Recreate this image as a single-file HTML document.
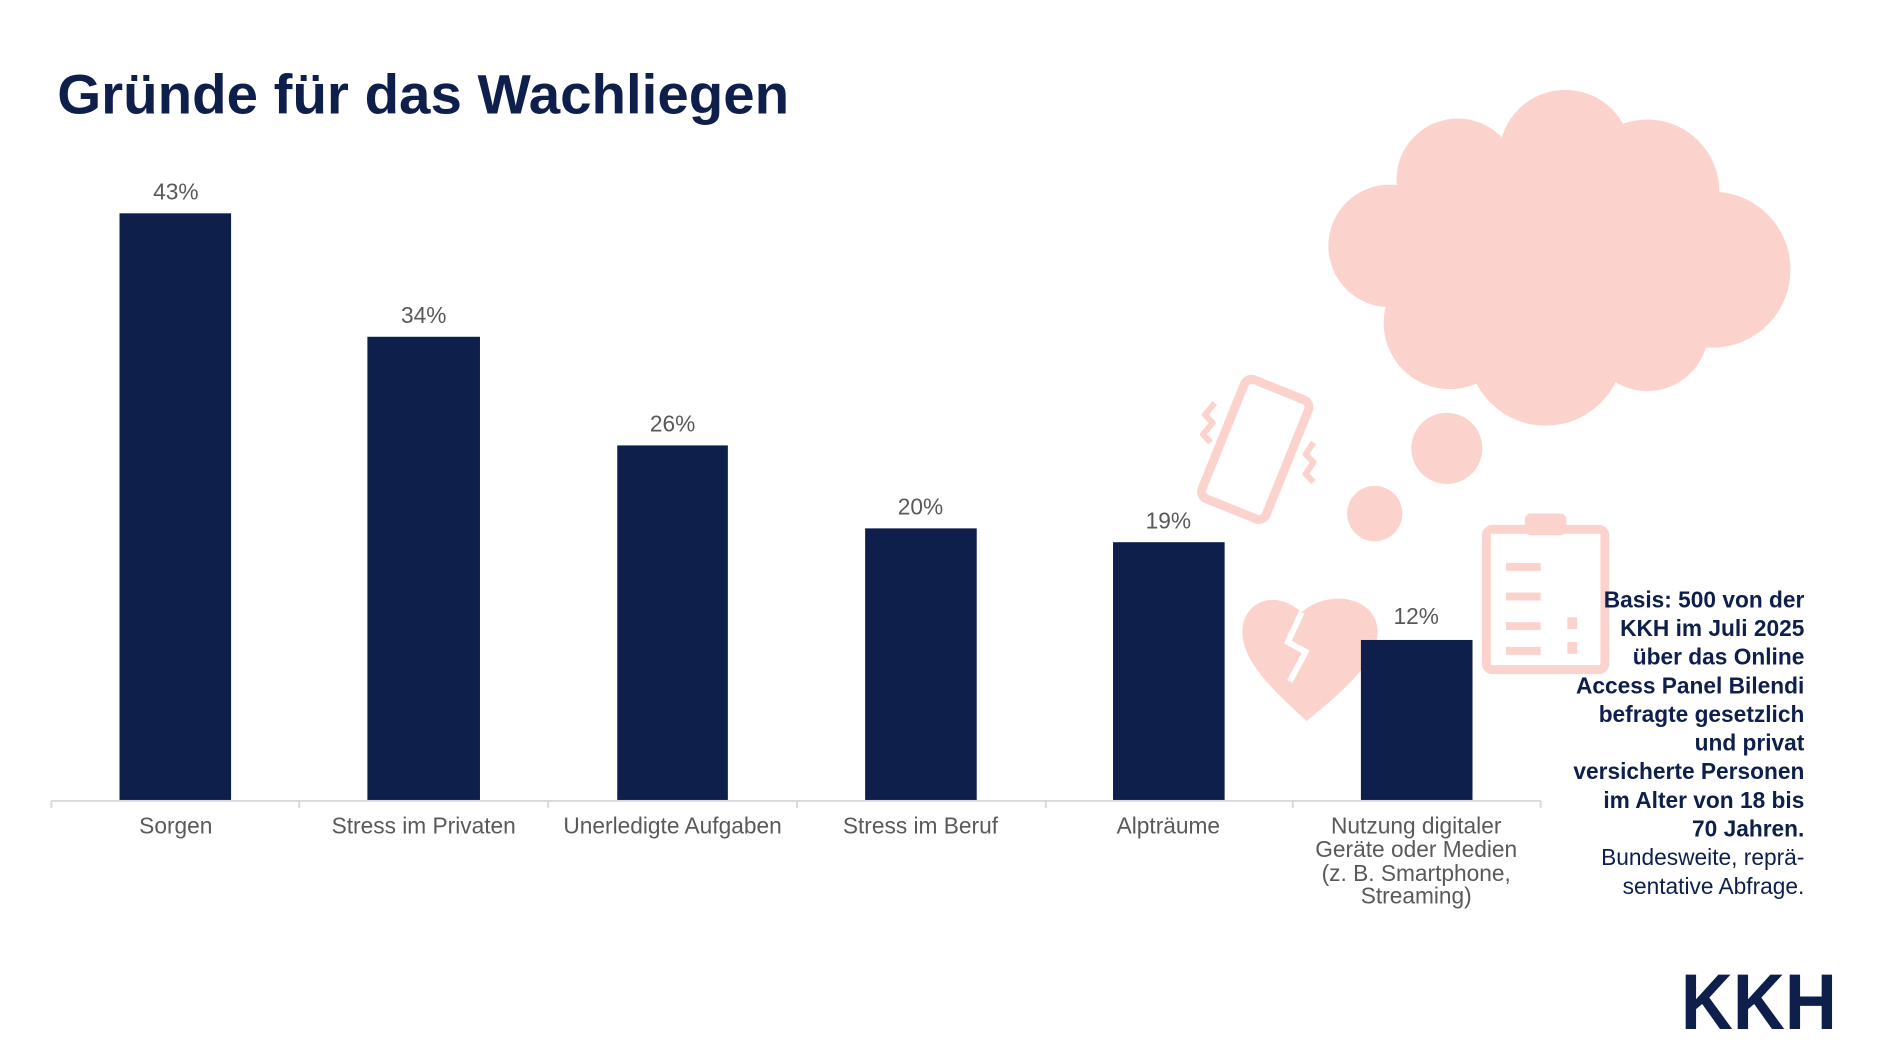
<!DOCTYPE html>
<html><head><meta charset="utf-8"><style>
body{margin:0;width:1880px;height:1057px;background:#fff;overflow:hidden;font-family:"Liberation Sans",sans-serif;}
</style></head><body>
<svg width="1880" height="1057" xmlns="http://www.w3.org/2000/svg" style="position:absolute;left:0;top:0">
<g transform="scale(0.9876)">
<g fill="#fcd3cc">
<circle cx="1476" cy="182" r="62"/><circle cx="1585" cy="158" r="67"/><circle cx="1668" cy="194" r="73"/><circle cx="1734" cy="273" r="79"/>
<circle cx="1407" cy="249" r="62"/><circle cx="1468" cy="327" r="67"/><circle cx="1565" cy="352" r="79"/><circle cx="1668" cy="334" r="62"/>
<circle cx="1560" cy="260" r="110"/>
<circle cx="1465" cy="454" r="36"/><circle cx="1392" cy="520" r="28"/>
</g>
<g fill="none" stroke="#fcd3cc" stroke-width="9" stroke-linejoin="round">
<rect x="1236" y="390" width="70" height="130" rx="8" transform="rotate(22 1271 455)"/>
<path d="M1230 408 l-10 12 l8 8 l-10 12 l8 8" stroke-width="6"/>
<path d="M1330 448 l-8 12 l8 8 l-8 12 l8 8" stroke-width="6"/>
<rect x="1505" y="536" width="120" height="142" rx="6"/>
</g>
<g fill="#fcd3cc">
<rect x="1544" y="520" width="42" height="22" rx="6"/>
<rect x="1525" y="570" width="35" height="8"/><rect x="1525" y="600" width="35" height="8"/><rect x="1525" y="630" width="35" height="8"/><rect x="1525" y="655" width="35" height="8"/>
<rect x="1587" y="625" width="10" height="12"/><rect x="1587" y="650" width="10" height="12"/>
<path d="M1323 730 C1290 700 1258 670 1258 640 C1258 610 1290 595 1318 620 C1346 595 1395 605 1395 640 C1395 670 1360 700 1323 730Z"/>
</g>
<path d="M1318 620 l-14 30 l18 10 l-16 30" stroke="#fff" stroke-width="6" fill="none"/>
<text x="58" y="115" font-size="56" font-weight="bold" fill="#0d1f4a" textLength="741" lengthAdjust="spacingAndGlyphs">Gründe für das Wachliegen</text>
<g fill="#0d1f4a">
<rect x="121" y="216" width="113" height="594"/><rect x="372" y="341" width="114" height="469"/>
<rect x="625" y="451" width="112" height="359"/><rect x="876" y="535" width="113" height="275"/>
<rect x="1127" y="549" width="113" height="261"/><rect x="1378" y="648" width="113" height="162"/>
</g>
<g stroke="#d9d9d9" stroke-width="2"><line x1="52" y1="811" x2="1560" y2="811"/>
<line x1="303" y1="811" x2="303" y2="818"/><line x1="555" y1="811" x2="555" y2="818"/><line x1="807" y1="811" x2="807" y2="818"/><line x1="1059" y1="811" x2="1059" y2="818"/><line x1="1309" y1="811" x2="1309" y2="818"/><line x1="1560" y1="811" x2="1560" y2="818"/><line x1="52" y1="811" x2="52" y2="818"/></g>
<g font-size="23" fill="#595959" text-anchor="middle">
<text x="178" y="202">43%</text><text x="429" y="327">34%</text><text x="681" y="437">26%</text><text x="932" y="521">20%</text><text x="1183" y="535">19%</text><text x="1434" y="632">12%</text>
<text x="178" y="844">Sorgen</text><text x="429" y="844">Stress im Privaten</text><text x="681" y="844">Unerledigte Aufgaben</text><text x="932" y="844">Stress im Beruf</text><text x="1183" y="844">Alpträume</text>
<text x="1434" y="844">Nutzung digitaler</text><text x="1434" y="868">Geräte oder Medien</text><text x="1434" y="892">(z. B. Smartphone,</text><text x="1434" y="915">Streaming)</text>
</g>
<g font-size="23" fill="#0d1f4a" text-anchor="end" font-weight="bold">
<text x="1827" y="615">Basis: 500 von der</text><text x="1827" y="644">KKH im Juli 2025</text><text x="1827" y="673">über das Online</text><text x="1827" y="702">Access Panel Bilendi</text><text x="1827" y="731">befragte gesetzlich</text><text x="1827" y="760">und privat</text><text x="1827" y="789">versicherte Personen</text><text x="1827" y="818">im Alter von 18 bis</text><text x="1827" y="847">70 Jahren.</text>
<text x="1827" y="876" font-weight="normal">Bundesweite, reprä-</text><text x="1827" y="905" font-weight="normal">sentative Abfrage.</text>
</g>
<text x="1702" y="1042" font-size="80" font-weight="bold" fill="#0d1f4a" textLength="158" lengthAdjust="spacingAndGlyphs">KKH</text>
</g>
</svg>
</body></html>
